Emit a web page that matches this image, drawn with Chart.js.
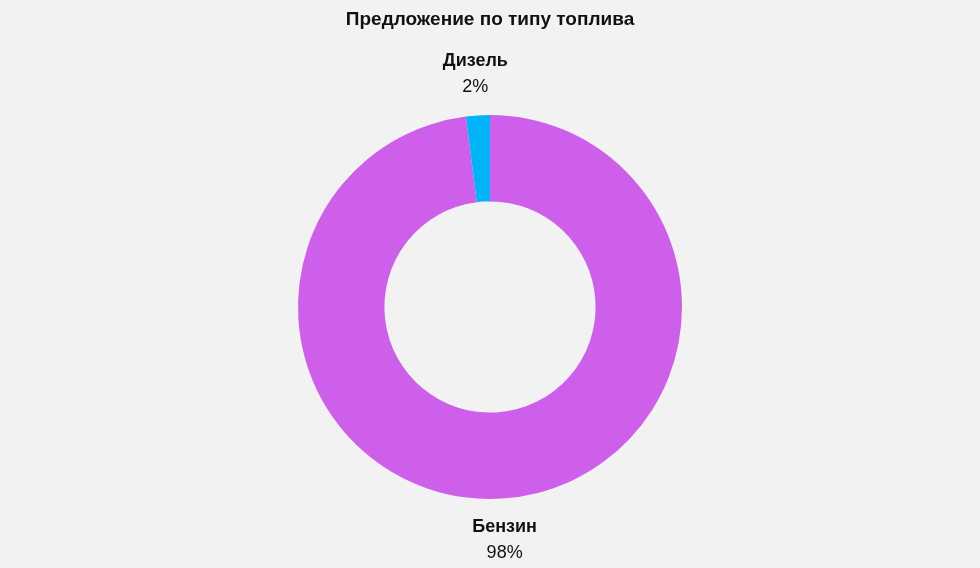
<!DOCTYPE html>
<html><head><meta charset="utf-8">
<script src="https://cdn.jsdelivr.net/npm/chart.js@4/dist/chart.umd.min.js"></script>
<style>html,body{margin:0;background:#f2f2f2}#w{width:980px;height:568px}</style>
</head><body><div id="w"><canvas id="c"></canvas></div>
<script>
const titleText = "Предложение по типу топлива";
const categories = ["Бензин", "Дизель"];
const values = [98, 2];
const colors = ["#cd5fea", "#00b4f8"];

const labelPlugin = {
  id: 'outLabels',
  afterDraw(chart) {
    const ctx = chart.ctx;
    ctx.save();
    ctx.fillStyle = '#111';
    ctx.textAlign = 'center';
    ctx.textBaseline = 'middle';
    ctx.font = 'bold 19px "Liberation Sans", Arial, sans-serif';
    ctx.fillText(titleText, chart.width / 2, 20);
    const total = values.reduce((a, b) => a + b, 0);
    chart.getDatasetMeta(0).data.forEach((arc, i) => {
      const mid = (arc.startAngle + arc.endAngle) / 2;
      const r = arc.outerRadius + 41;
      const x = arc.x + r * Math.cos(mid);
      const y = arc.y + r * Math.sin(mid);
      ctx.font = 'bold 18px "Liberation Sans", Arial, sans-serif';
      ctx.fillText(categories[i], x, y - 13);
      ctx.font = '18px "Liberation Sans", Arial, sans-serif';
      ctx.fillText(Math.round(values[i] / total * 100) + '%', x, y + 13);
    });
    ctx.restore();
  }
};

new Chart(document.getElementById('c'), {
  type: 'doughnut',
  data: { labels: categories, datasets: [{ data: values, backgroundColor: colors, borderWidth: 0 }] },
  options: {
    responsive: true, maintainAspectRatio: false, animation: false,
    cutout: '55%',
    layout: { padding: { top: 115, bottom: 69 } },
    plugins: { legend: { display: false }, title: { display: false }, tooltip: { enabled: false } }
  },
  plugins: [labelPlugin]
});
</script></body></html>
